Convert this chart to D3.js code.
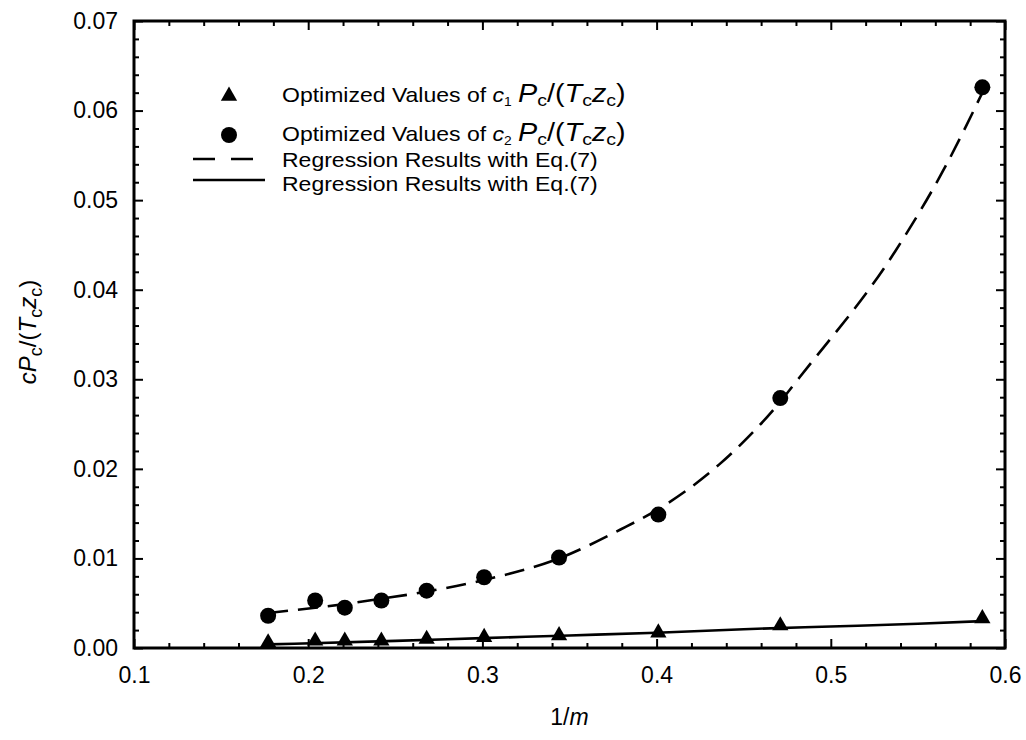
<!DOCTYPE html>
<html><head><meta charset="utf-8">
<script src="https://cdn.jsdelivr.net/npm/d3@7"></script>
<style>
html,body{margin:0;padding:0;background:#fff;}
svg text{font-family:"Liberation Sans",Arial,sans-serif;fill:#000;}
</style></head>
<body><svg id="chart" width="1026" height="740"></svg>
<script>
// ---- data ----
const xVals = [0.177, 0.204, 0.221, 0.242, 0.268, 0.301, 0.344, 0.401, 0.471, 0.587];
const c1Vals = [0.0006, 0.0008, 0.0008, 0.0008, 0.0010, 0.0012, 0.0014, 0.0017, 0.0025, 0.0033];
const c2Vals = [0.0036, 0.0053, 0.0045, 0.0053, 0.0064, 0.0079, 0.0101, 0.0149, 0.0279, 0.0626];
const fitX1 = [0.177, 0.25, 0.30, 0.35, 0.40, 0.45, 0.50, 0.55, 0.587];
const fitY1 = [0.0004, 0.0008, 0.0011, 0.0014, 0.0017, 0.0021, 0.0024, 0.0027, 0.0030];
const fitX2 = [0.177, 0.204, 0.221, 0.242, 0.268, 0.301, 0.344, 0.379, 0.401, 0.436, 0.471, 0.482, 0.537, 0.567, 0.587];
const fitY2 = [0.0039, 0.0045, 0.0049, 0.0055, 0.0063, 0.0076, 0.0100, 0.0132, 0.0155, 0.0205, 0.0275, 0.0302, 0.0443, 0.0542, 0.0620];
const xTickLabels = ["0.1", "0.2", "0.3", "0.4", "0.5", "0.6"];
const yTickLabels = ["0.00", "0.01", "0.02", "0.03", "0.04", "0.05", "0.06", "0.07"];
const legendTexts = ["Optimized Values of ", "Optimized Values of ", "Regression Results with Eq.(7)", "Regression Results with Eq.(7)"];

const svg = d3.select("#chart");
const L = 134, R = 1005, T = 21, B = 648;
const x = d3.scaleLinear().domain([0.1, 0.6]).range([L, R]);
const y = d3.scaleLinear().domain([0, 0.07]).range([B, T]);

const xMajor = xTickLabels.map(Number);
const yMajor = yTickLabels.map(Number);
const xMinor = d3.range(0, 26).map(i => 0.1 + i * 0.02).filter(v => !xMajor.some(m => Math.abs(m - v) < 1e-9));
const yMinor = d3.range(0, 36).map(i => i * 0.002).filter(v => !yMajor.some(m => Math.abs(m - v) < 1e-9));

function styleAxis(g){ g.select(".domain").remove(); g.selectAll(".tick line").attr("stroke","#000").attr("stroke-width",2); }

// minor ticks
svg.append("g").attr("transform",`translate(0,${B})`).call(d3.axisBottom(x).tickValues(xMinor).tickSize(-5).tickFormat("")).call(styleAxis);
svg.append("g").attr("transform",`translate(0,${T})`).call(d3.axisTop(x).tickValues(xMinor).tickSize(-5).tickFormat("")).call(styleAxis);
svg.append("g").attr("transform",`translate(${L},0)`).call(d3.axisLeft(y).tickValues(yMinor).tickSize(-5).tickFormat("")).call(styleAxis);
svg.append("g").attr("transform",`translate(${R},0)`).call(d3.axisRight(y).tickValues(yMinor).tickSize(-5).tickFormat("")).call(styleAxis);
// major ticks
const gxb = svg.append("g").attr("transform",`translate(0,${B})`)
  .call(d3.axisBottom(x).tickValues(xMajor).tickSize(-9).tickPadding(27).tickFormat((d,i)=>xTickLabels[i])).call(styleAxis);
gxb.selectAll("text").attr("font-size",23).attr("font-family","Liberation Sans, Arial, sans-serif").attr("dy","0.35em");
svg.append("g").attr("transform",`translate(0,${T})`).call(d3.axisTop(x).tickValues(xMajor).tickSize(-9).tickFormat("")).call(styleAxis);
const gyl = svg.append("g").attr("transform",`translate(${L},0)`)
  .call(d3.axisLeft(y).tickValues(yMajor).tickSize(-9).tickPadding(16).tickFormat((d,i)=>yTickLabels[i])).call(styleAxis);
gyl.selectAll("text").attr("font-size",23).attr("font-family","Liberation Sans, Arial, sans-serif");
svg.append("g").attr("transform",`translate(${R},0)`).call(d3.axisRight(y).tickValues(yMajor).tickSize(-9).tickFormat("")).call(styleAxis);

// frame
svg.append("rect").attr("x",L).attr("y",T).attr("width",R-L).attr("height",B-T)
  .attr("fill","none").attr("stroke","#000").attr("stroke-width",3);

// lines
const line = d3.line().x(d=>x(d[0])).y(d=>y(d[1])).curve(d3.curveMonotoneX);
svg.append("path").datum(fitX1.map((v,i)=>[v,fitY1[i]])).attr("d",line)
  .attr("fill","none").attr("stroke","#000").attr("stroke-width",2.6);
svg.append("path").datum(fitX2.map((v,i)=>[v,fitY2[i]])).attr("d",line)
  .attr("fill","none").attr("stroke","#000").attr("stroke-width",2.6).attr("stroke-dasharray","20,10");

// markers
const tri = d3.symbol().type(d3.symbolTriangle).size(115);
svg.append("g").selectAll("path").data(xVals.map((v,i)=>[v,c1Vals[i]])).join("path")
  .attr("d",tri).attr("transform",d=>`translate(${x(d[0])},${y(d[1])})`).attr("fill","#000");
svg.append("g").selectAll("circle").data(xVals.map((v,i)=>[v,c2Vals[i]])).join("circle")
  .attr("cx",d=>x(d[0])).attr("cy",d=>y(d[1])).attr("r",8).attr("fill","#000");

// legend
const lg = svg.append("g");
lg.append("path").attr("d",tri).attr("transform","translate(229,96)").attr("fill","#000");
lg.append("circle").attr("cx",229).attr("cy",135).attr("r",8).attr("fill","#000");
lg.append("line").attr("x1",193).attr("x2",253).attr("y1",159).attr("y2",159).attr("stroke","#000").attr("stroke-width",2.6).attr("stroke-dasharray","22,16");
lg.append("line").attr("x1",193).attr("x2",265).attr("y1",180).attr("y2",180).attr("stroke","#000").attr("stroke-width",2.6);

function legendText(yPos){
  return lg.append("text").attr("transform",`translate(282,${yPos}) scale(1.15,1)`).attr("font-size",20);
}
function legendFormula(t, idx, label){
  t.append("tspan").text(label);
  t.append("tspan").attr("font-style","italic").text("c");
  t.append("tspan").attr("font-size",12).attr("dy",4).text(idx);
  t.append("tspan").attr("dy",-4).text(" ");
  t.append("tspan").attr("font-style","italic").attr("font-size",25).text("P");
  t.append("tspan").attr("font-size",17).attr("dy",4).text("c");
  t.append("tspan").attr("dy",-4).attr("font-size",25).text("/(");
  t.append("tspan").attr("font-style","italic").attr("font-size",25).text("T");
  t.append("tspan").attr("font-size",17).attr("dy",4).text("c");
  t.append("tspan").attr("dy",-4).attr("font-style","italic").attr("font-size",25).text("z");
  t.append("tspan").attr("font-size",17).attr("dy",4).text("c");
  t.append("tspan").attr("dy",-4).attr("font-size",25).text(")");
}
legendFormula(legendText(102), "1", legendTexts[0]);
legendFormula(legendText(141), "2", legendTexts[1]);
legendText(167).text(legendTexts[2]);
legendText(191).text(legendTexts[3]);

// axis titles
const xt = svg.append("text").attr("x",(L+R)/2).attr("y",725).attr("text-anchor","middle").attr("font-size",23);
xt.append("tspan").text("1/");
xt.append("tspan").attr("font-style","italic").text("m");
const yt = svg.append("text").attr("transform","translate(36,332) rotate(-90)").attr("text-anchor","middle").attr("font-size",24);
yt.append("tspan").attr("font-style","italic").text("cP");
yt.append("tspan").attr("font-size",18).attr("dy",6).text("c");
yt.append("tspan").attr("dy",-6).text("/(");
yt.append("tspan").attr("font-style","italic").text("T");
yt.append("tspan").attr("font-size",18).attr("dy",6).text("c");
yt.append("tspan").attr("dy",-6).attr("font-style","italic").text("z");
yt.append("tspan").attr("font-size",18).attr("dy",6).text("c");
yt.append("tspan").attr("dy",-6).text(")");
</script></body></html>
